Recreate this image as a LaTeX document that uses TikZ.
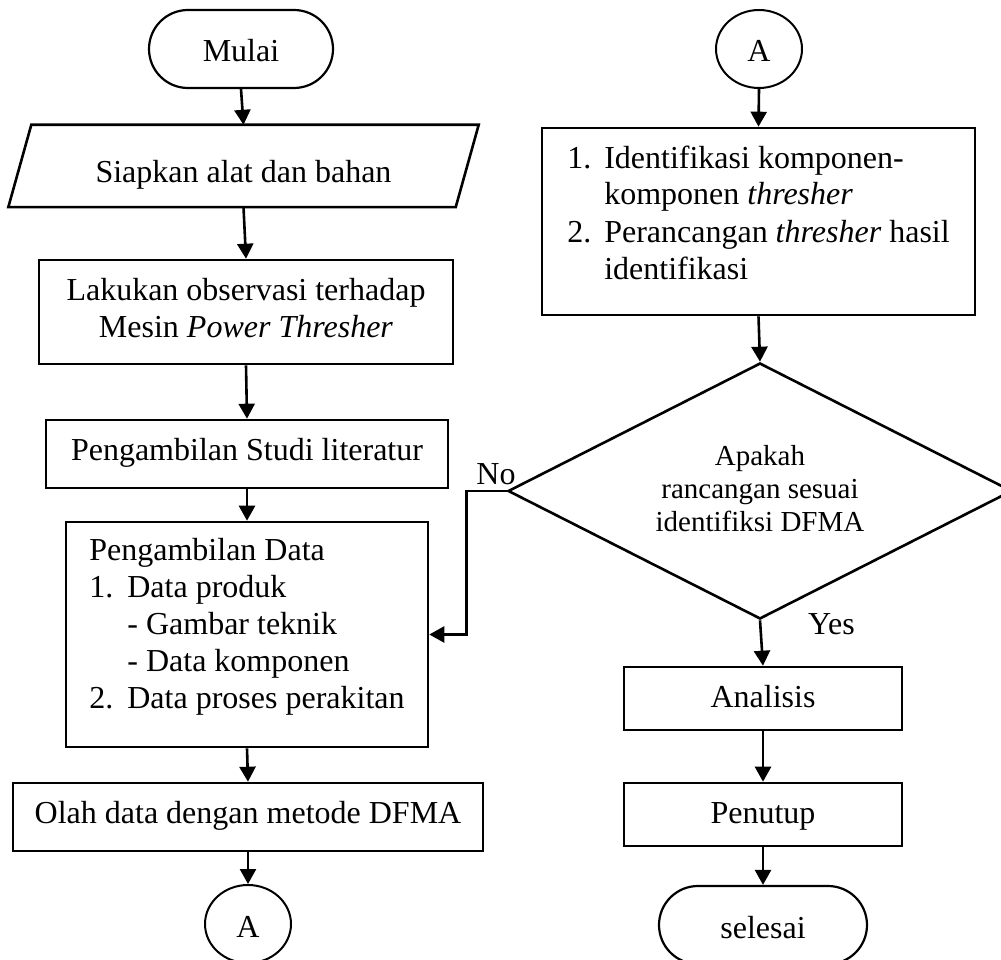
\documentclass[tikz,border=0pt]{standalone}
\usepackage{fontspec}
\setmainfont{Liberation Serif}
\usetikzlibrary{shapes.geometric,shapes.misc,arrows.meta}
\newcommand\vpad[2]{\rule[-#2]{0pt}{\dimexpr#1+#2\relax}}
\begin{document}
\begin{tikzpicture}[x=1pt,y=-1pt,
  every node/.style={font=\fontsize{32pt}{37pt}\selectfont, inner sep=0pt},
  box/.style={draw, line width=2.6pt, rectangle},
  termnode/.style={draw, line width=2.2pt, rounded rectangle, minimum height=78pt, text height=34pt, text depth=8pt},
  conn/.style={draw, line width=2pt, ellipse, minimum width=86pt, minimum height=78pt, text height=34pt, text depth=8pt},
  arr/.style={line width=2.6pt, -{Triangle[length=15pt,width=16pt]}},
  lowtext/.style={text height=25pt, text depth=8pt},
  midtext/.style={text height=20pt, text depth=8pt}
]
\useasboundingbox (0,0) rectangle (1001,960);

% left column
\node[termnode, minimum width=184pt] (mulai) at (241,49) {Mulai};
\node[minimum width=447pt, minimum height=82pt, text height=42pt, text depth=8pt] (par) at (243.5,166) {Siapkan alat dan bahan};
\draw[line width=2.6pt] ([xshift=-11.5pt]par.south west) -- ([xshift=11.5pt]par.north west) -- ([xshift=11.5pt]par.north east) -- ([xshift=-11.5pt]par.south east) -- cycle;
\node[box, minimum width=414pt, minimum height=104pt, align=center] (obs) at (246,312)
  {\vpad{30pt}{0pt}Lakukan observasi terhadap\\Mesin \textit{Power Thresher}\vpad{0pt}{17pt}};
\node[box, midtext, minimum width=402pt, minimum height=68pt] (studi) at (247,454) {Pengambilan Studi literatur};
\node[box, minimum width=362pt, minimum height=225pt, align=left] (data) at (247,634.5)
  {\vpad{26pt}{0pt}Pengambilan Data\\
   \makebox[38pt][l]{1.}Data produk\\
   \hspace*{38pt}- Gambar teknik\\
   \hspace*{38pt}- Data komponen\\
   \makebox[38pt][l]{2.}Data proses perakitan\vpad{0pt}{26pt}};
\node[box, midtext, minimum width=470pt, minimum height=68pt] (olah) at (248,817) {Olah data dengan metode DFMA};
\node[conn] (aleft) at (248,924) {A};

% right column
\node[conn] (aright) at (759,49) {A};
\node[box, minimum width=433pt, minimum height=187pt, align=left] (ident) at (758.5,221.5)
  {\vpad{30pt}{0pt}\makebox[37pt][l]{1.}Identifikasi komponen-\\
   \hspace*{37pt}komponen \textit{thresher}\\
   \makebox[37pt][l]{2.}Perancangan \textit{thresher} hasil\\
   \hspace*{37pt}identifikasi\vpad{0pt}{26pt}};
\node[draw, line width=2.6pt, diamond, aspect=2, minimum width=504pt, minimum height=256pt, align=center,
  font=\fontsize{29pt}{33pt}\selectfont] (dec) at (760,491)
  {\vpad{30pt}{0pt}Apakah\\rancangan sesuai\\identifiksi DFMA\vpad{0pt}{15pt}};
\node[box, lowtext, minimum width=278pt, minimum height=63pt] (anal) at (763,698.5) {Analisis};
\node[box, lowtext, minimum width=278pt, minimum height=63pt] (tutup) at (763,814.5) {Penutup};
\node[termnode, minimum width=208pt] (selesai) at (763,925) {selesai};

% labels
\node[anchor=base east] (nolab) at ([xshift=9pt,yshift=7pt]dec.west) {No};
\node[anchor=base west] (yeslab) at ([xshift=48pt,yshift=-14pt]dec.south) {Yes};

% connectors
\draw[arr] (mulai.south) -- (par.north);
\draw[arr] (par.south) -- (obs.north);
\draw[arr] (obs.south) -- (studi.north);
\draw[arr] (studi.south) -- (data.north);
\draw[arr] (data.south) -- (olah.north);
\draw[arr] (olah.south) -- (aleft.north);
\draw[arr] (aright.south) -- (ident.north);
\draw[arr] (ident.south) -- (dec.north);
\draw[arr] (dec.south) -- (anal.north);
\draw[arr] (anal.south) -- (tutup.north);
\draw[arr] (tutup.south) -- (selesai.north);
\draw[arr] (dec.west) -- ++(-40,0) |- (data.east);
\end{tikzpicture}
\end{document}
